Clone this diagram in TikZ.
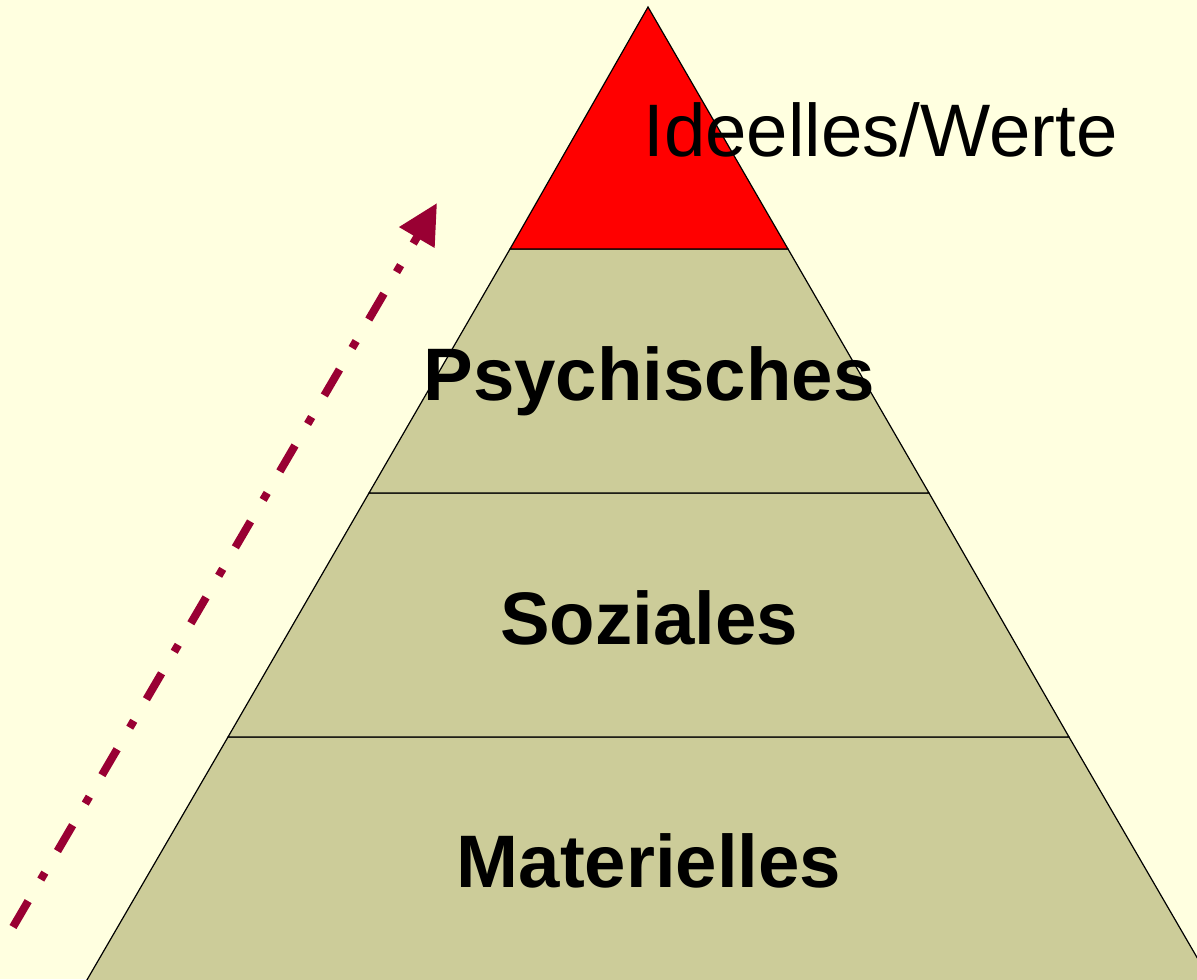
\documentclass[tikz,border=0pt]{standalone}
\usepackage{fontspec}
\setmainfont{Liberation Sans}
\usetikzlibrary{arrows.meta}
\definecolor{bgyellow}{HTML}{FFFFE0}
\definecolor{olive}{HTML}{CCCC99}
\definecolor{topred}{HTML}{FF0000}
\definecolor{arrowred}{HTML}{990033}
\tikzset{
  band/.style={fill=olive, draw=black, line width=0.6pt},
  topband/.style={fill=topred, draw=black, line width=0.6pt},
  boldlabel/.style={anchor=base, inner sep=0pt, font=\fontsize{37.2pt}{40pt}\selectfont\bfseries},
  plainlabel/.style={anchor=base west, inner sep=0pt, font=\fontsize{37.2pt}{40pt}\selectfont},
  risearrow/.style={draw=arrowred, line width=4pt, dash pattern=on 15pt off 12.5pt on 4pt off 12.5pt,
    -{Triangle[length=20pt,width=19.5pt]}}
}
\begin{document}
\begin{tikzpicture}[x=0.5pt,y=-0.5pt]
\useasboundingbox (0,0) rectangle (1197,979);
\fill[bgyellow] (0,0) rectangle (1197,979);
\begin{scope}
\clip (0,0) rectangle (1197,979);
% bands
\path[band] (84,985) -- (228,737) -- (1069,737) -- (1213,985) -- cycle;
\path[band] (228,737) -- (369,493) -- (929,493) -- (1069,737) -- cycle;
\path[band] (369,493) -- (510,249) -- (788,249) -- (929,493) -- cycle;
\path[topband] (510,249) -- (648,7) -- (788,249) -- cycle;
\end{scope}
\node[plainlabel] (ideell) at (643,156) {Ideelles/Werte};
\node[boldlabel] (psych) at (649,400) {Psychisches};
\node[boldlabel] (sozial) at (649,644) {Soziales};
\node[boldlabel] (mat) at (649,887) {Materielles};
\coordinate (arrstart) at (13,927);
\coordinate (arrend) at (437,203);
\draw[risearrow] (arrstart) -- (arrend);
\end{tikzpicture}
\end{document}
